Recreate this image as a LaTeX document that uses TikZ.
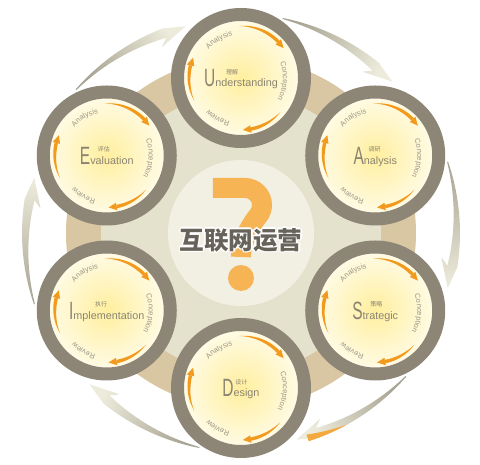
\documentclass[tikz,border=0pt]{standalone}
\usepackage{fontspec}
\setmainfont{Liberation Sans}
\newfontfamily\cjk{Noto Sans CJK SC}
\usepackage{xcolor}
\usetikzlibrary{calc,decorations.text}
\definecolor{ringc}{HTML}{8D8676}
\definecolor{tanc}{HTML}{D9C7A3}
\definecolor{beigec}{HTML}{E4E1CD}
\definecolor{midc}{HTML}{F2F0E3}
\definecolor{qorange}{HTML}{F6B454}
\definecolor{arrorange}{HTML}{F29A1E}
\definecolor{glowc}{HTML}{FFEF9E}
\definecolor{wordc}{HTML}{8B8472}
\definecolor{lblc}{HTML}{9C978A}
\definecolor{titlec}{HTML}{67635A}
\definecolor{swtail}{HTML}{A8A493}
\definecolor{swhead}{HTML}{EDEBDB}
\newcommand\arcfont{\fontsize{7.5}{8}\selectfont}
\newcommand\bigini[1]{\scalebox{0.62}[1]{\fontsize{25}{25}\selectfont #1}}
\tikzset{
  ringline/.style={draw=ringc, line width=13pt},
  orarrow/.style={fill=arrorange},
  qmark/.style={draw=qorange, line width=20pt},
  bigword/.style={text=wordc, font=\fontsize{10.8}{12}\selectfont, inner sep=0pt},
  cnword/.style={text=wordc, font=\cjk\fontsize{6}{7}\selectfont, inner sep=0pt},
  cntitle/.style={font=\cjk\bfseries\fontsize{24.6}{26}\selectfont, inner sep=0pt},
  arclab/.style={decorate, decoration={text along path, text align=center,
    text color=lblc, text={|\arcfont|#1}}},
}

\begin{document}
\begin{tikzpicture}[x=1pt,y=1pt]
  \def\rH{155}
  \useasboundingbox (-241,-232) rectangle (239,233);
  \fill[white] (-241,-232) rectangle (239,233);

  % outer swooshes
  \foreach \h in {-15,45,...,285}{
    \pgfmathsetmacro\t{\h+34}
    \pgfmathsetmacro\m{\h+17}
    \pgfmathsetmacro\hh{\h+6}
    \pgfmathsetmacro\hb{\h+8}
    \shade[top color=swtail, bottom color=swhead, shading angle=\m]
      plot[domain=\t:\hh, samples=16] (\x:219) -- (\h:214) -- (\hb:202)
      -- plot[domain=\hh:\t, samples=16] (\x:{218-9*(\t-\x)/28}) -- cycle;
  }
  \fill[arrorange!85] plot[domain=299:288, samples=10] (\x:219)
    -- plot[domain=288:299, samples=10] (\x:{219-7*(299-\x)/11}) -- cycle;

  \fill[tanc] (0,0) circle (175);
  \fill[beigec] (0,0) circle (140);
  \fill[midc] (0,0) circle (73);

  \draw[qmark] (-28,45) -- (4,45) arc[start angle=90, end angle=-40, radius=17]
    .. controls (10.6,9.3) and (0,-8) .. (0,-24);
  \fill[qorange] (0,-45) circle (13);

  \foreach \a in {0,45,...,315}
    \node[cntitle, text=white] (halo\a) at ($(0,-7)+(\a:1.4)$) {互联网运营};
  \node[cntitle, text=titlec] (title) at (0,-7) {互联网运营};

  \foreach \ang/\n/\ini/\rest/\cn/\dx in {90/U/U/nderstanding/理解/22,
      30/A/A/nalysis/调研/15, -30/S/S/trategic/策略/18, -90/D/D/esign/设计/13,
      -150/I/I/mplementation/执行/26, 150/E/E/valuation/评估/18}{
    \begin{scope}[shift={(\ang:\rH)}]
      \fill[white] (0,0) circle (57);
      \begin{scope}
        \clip (0,0) circle (57);
        \shade[inner color=glowc, outer color=white] (0,0) circle (80);
      \end{scope}
      \draw[ringline] (0,0) circle (63.5);
      \foreach \a/\b in {92/35, -41/-88, 206/157}{
        \pgfmathsetmacro\e{\b+9}
        \fill[orarrow] plot[domain=\a:\e, samples=20] (\x:{52+1.7*sin(90*(\x-\a)/(\e-\a))})
          -- plot[domain=\e:\a, samples=20] (\x:{52-1.7*sin(90*(\x-\a)/(\e-\a))}) -- cycle;
        \fill[orarrow] (\e:55.8) -- (\b:52) -- (\e:48.2) -- cycle;
      }
      \path[arclab=Analysis] (160:43) arc[start angle=160, end angle=80, radius=43];
      \path[arclab=Conception] (36:42) arc[start angle=36, end angle=-44, radius=42];
      \path[arclab=Review] (-80:45) arc[start angle=-80, end angle=-160, radius=45];
      \node[bigword, anchor=base] (w\n) at (0,-9) {\bigini{\ini}\rest};
      \node[cnword, anchor=base west] (c\n) at ($(w\n.base west)+(\dx,12.5)$) {\cn};
    \end{scope}
  }
\end{tikzpicture}
\end{document}
